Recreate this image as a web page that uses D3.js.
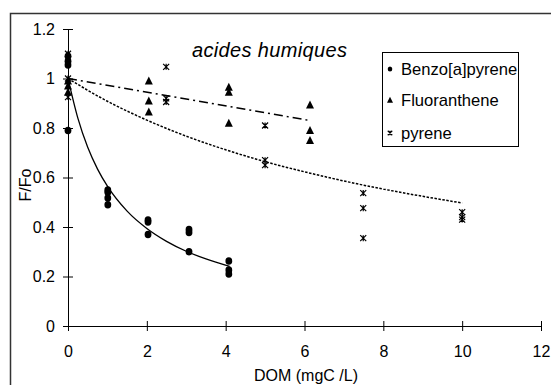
<!DOCTYPE html>
<html><head><meta charset="utf-8">
<script src="https://cdn.jsdelivr.net/npm/d3@7"></script>
<style>body{margin:0;background:#fff}svg{display:block}text{font-family:Arial,"Liberation Sans",sans-serif;fill:#000}</style>
</head><body><svg id="c" width="551" height="385"></svg>
<script>
// ---- data ----
const xTicks = [0, 2, 4, 6, 8, 10, 12];
const yTicks = [0, 0.2, 0.4, 0.6, 0.8, 1, 1.2];
const yTickLabels = ["0", "0.2", "0.4", "0.6", "0.8", "1", "1.2"];
const seriesNames = ["Benzo[a]pyrene", "Fluoranthene", "pyrene"];

const benzoX = [0, 0, 0, 0, 1.01, 1.01, 1.01, 1.01, 2.03, 2.03, 2.03, 3.07, 3.07, 3.07, 4.08, 4.08, 4.08];
const benzoY = [1.09, 1.07, 1.055, 0.79, 0.55, 0.54, 0.517, 0.49, 0.428, 0.42, 0.37, 0.39, 0.378, 0.30, 0.263, 0.226, 0.21];

const fluoX = [0, 0, 0, 2.05, 2.05, 2.05, 4.08, 4.08, 4.08, 6.14, 6.14, 6.14];
const fluoY = [0.99, 0.97, 0.945, 0.99, 0.91, 0.865, 0.965, 0.945, 0.82, 0.893, 0.79, 0.75];

const pyrX = [0, 0, 0, 2.49, 2.49, 2.49, 5.0, 5.0, 5.0, 7.49, 7.49, 7.49, 10, 10, 10];
const pyrY = [1.10, 1.0, 0.925, 1.047, 0.92, 0.905, 0.81, 0.67, 0.65, 0.537, 0.476, 0.355, 0.46, 0.44, 0.43];

// trend lines
const benzoFitX = [0, 0.25, 0.5, 0.75, 1, 1.5, 2, 2.5, 3, 3.5, 4.1];
const benzoFitY = [1.0, 0.84, 0.722, 0.634, 0.565, 0.464, 0.394, 0.342, 0.302, 0.271, 0.241];
const fluoFitX = [0, 6.14];
const fluoFitY = [1.0, 0.83];
const pyrFitX = [0, 1, 2, 3, 4, 5, 6, 7, 8, 9, 10];
const pyrFitY = [1.0, 0.908, 0.832, 0.767, 0.712, 0.664, 0.623, 0.586, 0.553, 0.524, 0.497];

// ---- drawing ----
const svg = d3.select("#c");
const x = d3.scaleLinear().domain([0, 12]).range([68, 541]);
const y = d3.scaleLinear().domain([0, 1.2]).range([326, 29]);

// outer chart border (extends beyond window)
svg.append("rect").attr("x", 10.5).attr("y", 13.5).attr("width", 600).attr("height", 420)
  .attr("fill", "none").attr("stroke", "#333").attr("stroke-width", 1.5);

// axes
const xAxis = svg.append("g").attr("transform", `translate(0,${y(0)})`)
  .call(d3.axisBottom(x).tickValues(xTicks).tickSize(0).tickPadding(20).tickFormat(d3.format("d")));
xAxis.select(".domain").attr("stroke", "#000");
xAxis.selectAll(".tick").append("line").attr("y1", -5).attr("y2", 5).attr("stroke", "#000");
xAxis.selectAll("text").attr("font-size", 16).attr("font-family", "Arial, 'Liberation Sans', sans-serif");

const yAxis = svg.append("g").attr("transform", `translate(${x(0)},0)`)
  .call(d3.axisLeft(y).tickValues(yTicks).tickSize(0).tickPadding(13).tickFormat((d, i) => yTickLabels[i]));
yAxis.select(".domain").attr("stroke", "#000");
yAxis.selectAll(".tick").append("line").attr("x1", -5).attr("x2", 5).attr("stroke", "#000");
yAxis.selectAll("text").attr("font-size", 16).attr("font-family", "Arial, 'Liberation Sans', sans-serif");

// axis titles
svg.append("text").attr("x", 306).attr("y", 381).attr("text-anchor", "middle").attr("font-size", 16).text("DOM (mgC /L)");
svg.append("text").attr("transform", "translate(31,185) rotate(-90)").attr("text-anchor", "middle").attr("font-size", 16).text("F/Fo");
// title
svg.append("text").attr("x", 192).attr("y", 57).attr("font-size", 20).attr("letter-spacing", 0.35).attr("font-style", "italic").text("acides humiques");

// trend lines
const zip = (a, b) => a.map((v, i) => [v, b[i]]);
svg.append("path").datum(zip(benzoFitX, benzoFitY)).attr("d", d3.line().curve(d3.curveMonotoneX).x(d => x(d[0])).y(d => y(d[1])))
  .attr("fill", "none").attr("stroke", "#000").attr("stroke-width", 1.3);
svg.append("path").datum(zip(fluoFitX, fluoFitY)).attr("d", d3.line().x(d => x(d[0])).y(d => y(d[1])))
  .attr("fill", "none").attr("stroke", "#000").attr("stroke-width", 1.5).attr("stroke-dasharray", "9,4,2,4");
svg.append("path").datum(zip(pyrFitX, pyrFitY)).attr("d", d3.line().curve(d3.curveMonotoneX).x(d => x(d[0])).y(d => y(d[1])))
  .attr("fill", "none").attr("stroke", "#000").attr("stroke-width", 1.5).attr("stroke-dasharray", "2.5,1.5");

// markers
function circle(g, cx, cy, r) { g.append("ellipse").attr("cx", cx).attr("cy", cy).attr("rx", r).attr("ry", r * 1.1).attr("fill", "#000"); }
function tri(g, cx, cy, s) {
  g.append("path").attr("d", `M${cx},${cy - s * 0.55}L${cx + s / 2},${cy + s * 0.45}L${cx - s / 2},${cy + s * 0.45}Z`).attr("fill", "#000");
}
function star(g, cx, cy, s) {
  const h = s / 2;
  g.append("path").attr("d", `M${cx - h},${cy - h}L${cx + h},${cy + h}M${cx + h},${cy - h}L${cx - h},${cy + h}M${cx},${cy - h}L${cx},${cy + h}`)
    .attr("stroke", "#000").attr("stroke-width", 1.2).attr("fill", "none");
}
const gm = svg.append("g");
benzoX.forEach((v, i) => circle(gm, x(v), y(benzoY[i]), 3.4));
fluoX.forEach((v, i) => tri(gm, x(v), y(fluoY[i]), 8));
pyrX.forEach((v, i) => star(gm, x(v), y(pyrY[i]), 6));

// legend
const lg = svg.append("g");
lg.append("rect").attr("x", 382.5).attr("y", 52.5).attr("width", 136).attr("height", 94)
  .attr("fill", "#fff").attr("stroke", "#000").attr("stroke-width", 1);
const rows = [69, 100, 133];
circle(lg, 390, rows[0], 2.3);
tri(lg, 390, rows[1], 6);
star(lg, 390, rows[2], 4.5);
seriesNames.forEach((n, i) => lg.append("text").attr("x", 401).attr("y", rows[i]).attr("dy", "0.36em").attr("font-size", 16.6).text(n));
</script></body></html>
